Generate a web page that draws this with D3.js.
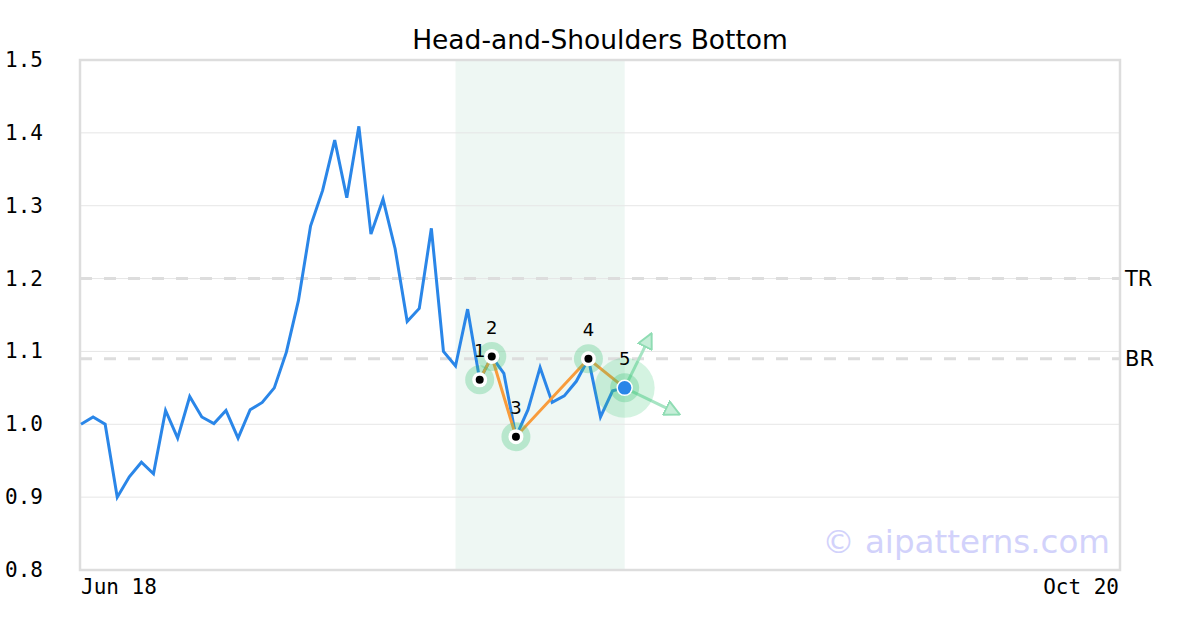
<!DOCTYPE html>
<html><head><meta charset="utf-8">
<script src="https://cdn.jsdelivr.net/npm/d3@7"></script>
<style>body{margin:0;background:#fff}svg{display:block}</style>
</head><body>
<svg id="c" width="1200" height="630"></svg>
<script>
const title = "Head-and-Shoulders Bottom";
const values = [1.00,1.01,1.00,0.90,0.928,0.948,0.932,1.019,0.981,1.038,1.010,1.001,1.019,0.981,1.020,1.030,1.050,1.099,1.17,1.272,1.321,1.39,1.311,1.409,1.261,1.309,1.241,1.141,1.159,1.269,1.100,1.080,1.158,1.061,1.093,1.07,0.983,1.02,1.078,1.03,1.039,1.059,1.09,1.01,1.046,1.050];
const xDomainEnd = 86;
const xTickLabels = ["Jun 18","Oct 20"];
const yTicks = [0.8,0.9,1.0,1.1,1.2,1.3,1.4,1.5];
const pivotIdx = [33,34,36,42,45];
const pivotLabels = ["1","2","3","4","5"];
const zoneRange = [31,45];
const levelValues = [1.2,1.09];
const levelLabels = ["TR","BR"];
const arrowIdx = [47.2,49.5];
const arrowVals = [1.124,1.014];
const watermark = "© aipatterns.com";

const svg = d3.select("#c");
const L=80,R=1120,T=60,B=570;
const x = d3.scaleLinear().domain([0,xDomainEnd]).range([81,R]);
const y = d3.scaleLinear().domain([0.8,1.5]).range([B,T]);

// title
svg.append("text").attr("x",600).attr("y",49).attr("text-anchor","middle")
  .attr("font-family","DejaVu Sans").attr("font-size",26.5).attr("fill","#000").text(title);

// zone
svg.append("rect").attr("x",x(zoneRange[0])).attr("y",T).attr("width",x(zoneRange[1])-x(zoneRange[0])).attr("height",B-T).attr("fill","#eef7f3");

// grid
svg.append("g").selectAll("line").data(yTicks.slice(1,-1)).join("line")
  .attr("x1",L).attr("x2",R).attr("y1",d=>y(d)).attr("y2",d=>y(d))
  .attr("stroke","#e6e6e6").attr("stroke-width",1);

// level lines
svg.append("g").selectAll("line").data(levelValues).join("line")
  .attr("x1",L).attr("x2",R).attr("y1",d=>y(d)).attr("y2",d=>y(d))
  .attr("stroke","#dddddd").attr("stroke-width",3).attr("stroke-dasharray","12,12");
svg.append("g").selectAll("text").data(levelValues).join("text")
  .attr("x",1125).attr("y",d=>y(d)+7).attr("font-family","DejaVu Sans").attr("font-size",21)
  .attr("fill","#000").text((d,i)=>levelLabels[i]);

// frame
svg.append("rect").attr("x",L).attr("y",T).attr("width",R-L).attr("height",B-T)
  .attr("fill","none").attr("stroke","#dddddd").attr("stroke-width",2.5);

// y labels
svg.append("g").selectAll("text").data(yTicks).join("text")
  .attr("x",5).attr("y",d=>y(d)+7).attr("font-family","DejaVu Sans Mono").attr("font-size",21)
  .attr("fill","#000").text(d=>d.toFixed(1));
// x labels
svg.append("text").attr("x",81).attr("y",594).attr("font-family","DejaVu Sans Mono").attr("font-size",21).text(xTickLabels[0]);
svg.append("text").attr("x",1119).attr("y",594).attr("text-anchor","end").attr("font-family","DejaVu Sans Mono").attr("font-size",21).text(xTickLabels[1]);

// watermark
svg.append("text").attr("x",1110).attr("y",553).attr("text-anchor","end").attr("font-family","DejaVu Sans")
  .attr("font-size",32.5).attr("fill","#d2d2fb").text(watermark);

// price line
svg.append("path").datum(values).attr("fill","none").attr("stroke","#2a86e8").attr("stroke-width",3)
  .attr("stroke-linejoin","miter")
  .attr("d",d3.line().x((d,i)=>x(i)).y(d=>y(d)));

// pattern line
svg.append("path").datum(pivotIdx).attr("fill","none").attr("stroke","#f89c3c").attr("stroke-width",3)
  .attr("d",d3.line().x(d=>x(d)).y(d=>y(values[d])));

// arrows
const defs = svg.append("defs");
defs.append("marker").attr("id","ah").attr("viewBox","0 0 10 10").attr("refX",9).attr("refY",5)
  .attr("markerWidth",5.5).attr("markerHeight",5.5).attr("orient","auto").attr("markerUnits","strokeWidth")
  .append("path").attr("d","M0.5,0.5 L9.5,5 L0.5,9.5 Z").attr("fill","#c6eed8").attr("stroke","#8fdcb3").attr("stroke-width",1.2);
const last = pivotIdx[pivotIdx.length-1];
svg.append("g").selectAll("line").data(arrowIdx).join("line")
  .attr("x1",x(last)).attr("y1",y(values[last])).attr("x2",d=>x(d)).attr("y2",(d,i)=>y(arrowVals[i]))
  .attr("stroke","#a6e4c3").attr("stroke-width",3).attr("marker-end","url(#ah)");

// big halo at last
svg.append("circle").attr("cx",x(last)).attr("cy",y(values[last])).attr("r",30).attr("fill","rgba(60,200,120,0.22)");

// halos
svg.append("g").selectAll("circle").data(pivotIdx).join("circle")
  .attr("cx",d=>x(d)).attr("cy",d=>y(values[d])).attr("r",14.5).attr("fill","rgba(60,195,120,0.3)");
// markers
pivotIdx.forEach((d,i)=>{
  const cx=x(d), cy=y(values[d]);
  if(i<pivotIdx.length-1){
    svg.append("circle").attr("cx",cx).attr("cy",cy).attr("r",7.5).attr("fill","#fff");
    svg.append("circle").attr("cx",cx).attr("cy",cy).attr("r",4).attr("fill","#000");
  } else {
    svg.append("circle").attr("cx",cx).attr("cy",cy).attr("r",7.5).attr("fill","#2a86e8").attr("stroke","#fff").attr("stroke-width",1.5);
  }
});
// labels
svg.append("g").selectAll("text").data(pivotIdx).join("text")
  .attr("x",d=>x(d)).attr("y",d=>y(values[d])-23).attr("text-anchor","middle")
  .attr("font-family","DejaVu Sans").attr("font-size",18).attr("fill","#000")
  .text((d,i)=>pivotLabels[i]);
</script>
</body></html>
